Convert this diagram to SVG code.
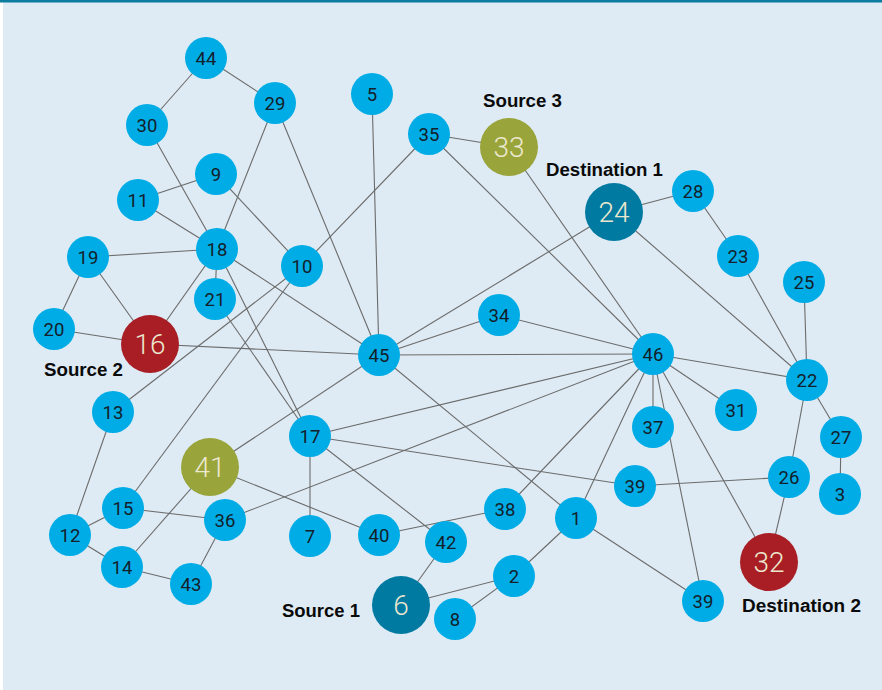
<svg xmlns="http://www.w3.org/2000/svg" width="882" height="690" viewBox="0 0 882 690">
<style>
.e{stroke:#6b6b6b;stroke-width:1.1;fill:none}
.n{fill:#00ace6}
.t{font-family:Roboto,"Liberation Sans",sans-serif;font-size:18.5px;fill:#14202a;text-anchor:middle}
.bt{font-family:Roboto,"Liberation Sans",sans-serif;font-weight:300;font-size:28px;fill:#ece8cf;text-anchor:middle}
.lb{font-family:"Liberation Sans",Arial,sans-serif;font-weight:bold;font-size:18px;fill:#0a0a0a}
.teal{fill:#007aa1}
.olive{fill:#99a43a}
.red{fill:#a81e24}
</style>
<rect x="0" y="0" width="882" height="690" fill="#ffffff"/>
<rect x="3" y="0" width="879" height="690" fill="#deebf4"/>
<rect x="0" y="0" width="882" height="2.5" fill="#0b7ba0"/>
<g id="connectors">
<line class="e" x1="206" y1="58" x2="147" y2="125"/>
<line class="e" x1="206" y1="58" x2="275" y2="103"/>
<line class="e" x1="147" y1="125" x2="217" y2="249"/>
<line class="e" x1="275" y1="103" x2="217" y2="249"/>
<line class="e" x1="275" y1="103" x2="379" y2="355"/>
<line class="e" x1="216" y1="174" x2="138" y2="200"/>
<line class="e" x1="216" y1="174" x2="302" y2="266"/>
<line class="e" x1="138" y1="200" x2="217" y2="249"/>
<line class="e" x1="88" y1="257" x2="217" y2="249"/>
<line class="e" x1="88" y1="257" x2="54" y2="329"/>
<line class="e" x1="88" y1="257" x2="150" y2="344"/>
<line class="e" x1="54" y1="329" x2="150" y2="344"/>
<line class="e" x1="217" y1="249" x2="215" y2="299"/>
<line class="e" x1="217" y1="249" x2="150" y2="344"/>
<line class="e" x1="217" y1="249" x2="379" y2="355"/>
<line class="e" x1="217" y1="249" x2="310" y2="436"/>
<line class="e" x1="215" y1="299" x2="310" y2="436"/>
<line class="e" x1="150" y1="344" x2="379" y2="355"/>
<line class="e" x1="113" y1="412" x2="302" y2="266"/>
<line class="e" x1="123" y1="508" x2="302" y2="266"/>
<line class="e" x1="113" y1="412" x2="70" y2="535"/>
<line class="e" x1="70" y1="535" x2="123" y2="508"/>
<line class="e" x1="70" y1="535" x2="122" y2="567"/>
<line class="e" x1="123" y1="508" x2="225" y2="520"/>
<line class="e" x1="122" y1="567" x2="210" y2="467"/>
<line class="e" x1="122" y1="567" x2="191" y2="584"/>
<line class="e" x1="191" y1="584" x2="225" y2="520"/>
<line class="e" x1="210" y1="467" x2="379" y2="355"/>
<line class="e" x1="210" y1="467" x2="379" y2="535"/>
<line class="e" x1="225" y1="520" x2="653" y2="354"/>
<line class="e" x1="302" y1="266" x2="429" y2="134"/>
<line class="e" x1="372" y1="94" x2="379" y2="355"/>
<line class="e" x1="429" y1="134" x2="509" y2="147"/>
<line class="e" x1="429" y1="134" x2="653" y2="354"/>
<line class="e" x1="509" y1="147" x2="653" y2="354"/>
<line class="e" x1="614" y1="212" x2="379" y2="355"/>
<line class="e" x1="614" y1="212" x2="693" y2="191"/>
<line class="e" x1="614" y1="212" x2="807" y2="380"/>
<line class="e" x1="693" y1="191" x2="738" y2="256"/>
<line class="e" x1="738" y1="256" x2="807" y2="380"/>
<line class="e" x1="804" y1="282" x2="807" y2="380"/>
<line class="e" x1="807" y1="380" x2="653" y2="354"/>
<line class="e" x1="807" y1="380" x2="841" y2="437"/>
<line class="e" x1="807" y1="380" x2="789" y2="477"/>
<line class="e" x1="841" y1="437" x2="840" y2="494"/>
<line class="e" x1="789" y1="477" x2="635" y2="486"/>
<line class="e" x1="635" y1="486" x2="310" y2="436"/>
<line class="e" x1="310" y1="436" x2="653" y2="354"/>
<line class="e" x1="310" y1="436" x2="310" y2="536"/>
<line class="e" x1="310" y1="436" x2="446" y2="542"/>
<line class="e" x1="499" y1="315" x2="379" y2="355"/>
<line class="e" x1="499" y1="315" x2="653" y2="354"/>
<line class="e" x1="379" y1="355" x2="653" y2="354"/>
<line class="e" x1="379" y1="355" x2="576" y2="518"/>
<line class="e" x1="653" y1="354" x2="736" y2="410"/>
<line class="e" x1="653" y1="354" x2="653" y2="427"/>
<line class="e" x1="653" y1="354" x2="703" y2="601"/>
<line class="e" x1="653" y1="354" x2="769" y2="562"/>
<line class="e" x1="653" y1="354" x2="576" y2="518"/>
<line class="e" x1="653" y1="354" x2="505" y2="509"/>
<line class="e" x1="505" y1="509" x2="379" y2="535"/>
<line class="e" x1="576" y1="518" x2="514" y2="576"/>
<line class="e" x1="576" y1="518" x2="703" y2="601"/>
<line class="e" x1="514" y1="576" x2="401" y2="605"/>
<line class="e" x1="514" y1="576" x2="455" y2="619"/>
<line class="e" x1="401" y1="605" x2="446" y2="542"/>
<line class="e" x1="789" y1="477" x2="769" y2="562"/>
</g>
<g id="n44"><circle class="n" cx="206" cy="58" r="21"/><text class="t" x="206" y="64.5">44</text></g>
<g id="n29"><circle class="n" cx="275" cy="103" r="21"/><text class="t" x="275" y="109.5">29</text></g>
<g id="n30"><circle class="n" cx="147" cy="125" r="21"/><text class="t" x="147" y="131.5">30</text></g>
<g id="n9"><circle class="n" cx="216" cy="174" r="21"/><text class="t" x="216" y="180.5">9</text></g>
<g id="n11"><circle class="n" cx="138" cy="200" r="21"/><text class="t" x="138" y="206.5">11</text></g>
<g id="n5"><circle class="n" cx="372" cy="94" r="21"/><text class="t" x="372" y="100.5">5</text></g>
<g id="n35"><circle class="n" cx="429" cy="134" r="21"/><text class="t" x="429" y="140.5">35</text></g>
<g id="n33"><circle class="olive" cx="509" cy="147" r="29"/><text class="bt" x="509" y="157">33</text></g>
<g id="n24"><circle class="teal" cx="614" cy="212" r="29"/><text class="bt" x="614" y="222">24</text></g>
<g id="n28"><circle class="n" cx="693" cy="191" r="21"/><text class="t" x="693" y="197.5">28</text></g>
<g id="n23"><circle class="n" cx="738" cy="256" r="21"/><text class="t" x="738" y="262.5">23</text></g>
<g id="n25"><circle class="n" cx="804" cy="282" r="21"/><text class="t" x="804" y="288.5">25</text></g>
<g id="n22"><circle class="n" cx="807" cy="380" r="21"/><text class="t" x="807" y="386.5">22</text></g>
<g id="n46"><circle class="n" cx="653" cy="354" r="21"/><text class="t" x="653" y="360.5">46</text></g>
<g id="n31"><circle class="n" cx="736" cy="410" r="21"/><text class="t" x="736" y="416.5">31</text></g>
<g id="n37"><circle class="n" cx="653" cy="427" r="21"/><text class="t" x="653" y="433.5">37</text></g>
<g id="n27"><circle class="n" cx="841" cy="437" r="21"/><text class="t" x="841" y="443.5">27</text></g>
<g id="n19"><circle class="n" cx="88" cy="257" r="21"/><text class="t" x="88" y="263.5">19</text></g>
<g id="n18"><circle class="n" cx="217" cy="249" r="21"/><text class="t" x="217" y="255.5">18</text></g>
<g id="n21"><circle class="n" cx="215" cy="299" r="21"/><text class="t" x="215" y="305.5">21</text></g>
<g id="n20"><circle class="n" cx="54" cy="329" r="21"/><text class="t" x="54" y="335.5">20</text></g>
<g id="n16"><circle class="red" cx="150" cy="344" r="29"/><text class="bt" x="150" y="354">16</text></g>
<g id="n13"><circle class="n" cx="113" cy="412" r="21"/><text class="t" x="113" y="418.5">13</text></g>
<g id="n10"><circle class="n" cx="302" cy="266" r="21"/><text class="t" x="302" y="272.5">10</text></g>
<g id="n34"><circle class="n" cx="499" cy="315" r="21"/><text class="t" x="499" y="321.5">34</text></g>
<g id="n45"><circle class="n" cx="379" cy="355" r="21"/><text class="t" x="379" y="361.5">45</text></g>
<g id="n17"><circle class="n" cx="310" cy="436" r="21"/><text class="t" x="310" y="442.5">17</text></g>
<g id="n41"><circle class="olive" cx="210" cy="467" r="29"/><text class="bt" x="210" y="477">41</text></g>
<g id="n15"><circle class="n" cx="123" cy="508" r="21"/><text class="t" x="123" y="514.5">15</text></g>
<g id="n12"><circle class="n" cx="70" cy="535" r="21"/><text class="t" x="70" y="541.5">12</text></g>
<g id="n36"><circle class="n" cx="225" cy="520" r="21"/><text class="t" x="225" y="526.5">36</text></g>
<g id="n14"><circle class="n" cx="122" cy="567" r="21"/><text class="t" x="122" y="573.5">14</text></g>
<g id="n43"><circle class="n" cx="191" cy="584" r="21"/><text class="t" x="191" y="590.5">43</text></g>
<g id="n7"><circle class="n" cx="310" cy="536" r="21"/><text class="t" x="310" y="542.5">7</text></g>
<g id="n40"><circle class="n" cx="379" cy="535" r="21"/><text class="t" x="379" y="541.5">40</text></g>
<g id="n42"><circle class="n" cx="446" cy="542" r="21"/><text class="t" x="446" y="548.5">42</text></g>
<g id="n38"><circle class="n" cx="505" cy="509" r="21"/><text class="t" x="505" y="515.5">38</text></g>
<g id="n1"><circle class="n" cx="576" cy="518" r="21"/><text class="t" x="576" y="524.5">1</text></g>
<g id="n2"><circle class="n" cx="514" cy="576" r="21"/><text class="t" x="514" y="582.5">2</text></g>
<g id="n6"><circle class="teal" cx="401" cy="605" r="29"/><text class="bt" x="401" y="615">6</text></g>
<g id="n8"><circle class="n" cx="455" cy="619" r="21"/><text class="t" x="455" y="625.5">8</text></g>
<g id="n39a"><circle class="n" cx="635" cy="486" r="21"/><text class="t" x="635" y="492.5">39</text></g>
<g id="n26"><circle class="n" cx="789" cy="477" r="21"/><text class="t" x="789" y="483.5">26</text></g>
<g id="n3"><circle class="n" cx="840" cy="494" r="21"/><text class="t" x="840" y="500.5">3</text></g>
<g id="n32"><circle class="red" cx="769" cy="562" r="29"/><text class="bt" x="769" y="572">32</text></g>
<g id="n39b"><circle class="n" cx="703" cy="601" r="21"/><text class="t" x="703" y="607.5">39</text></g>
<g id="labels">
<text class="lb" x="483" y="107" textLength="79" lengthAdjust="spacingAndGlyphs">Source 3</text>
<text class="lb" x="546" y="176" textLength="117" lengthAdjust="spacingAndGlyphs">Destination 1</text>
<text class="lb" x="44" y="376" textLength="79" lengthAdjust="spacingAndGlyphs">Source 2</text>
<text class="lb" x="282" y="617" textLength="78" lengthAdjust="spacingAndGlyphs">Source 1</text>
<text class="lb" x="742" y="612" textLength="119" lengthAdjust="spacingAndGlyphs">Destination 2</text>
</g>
</svg>
